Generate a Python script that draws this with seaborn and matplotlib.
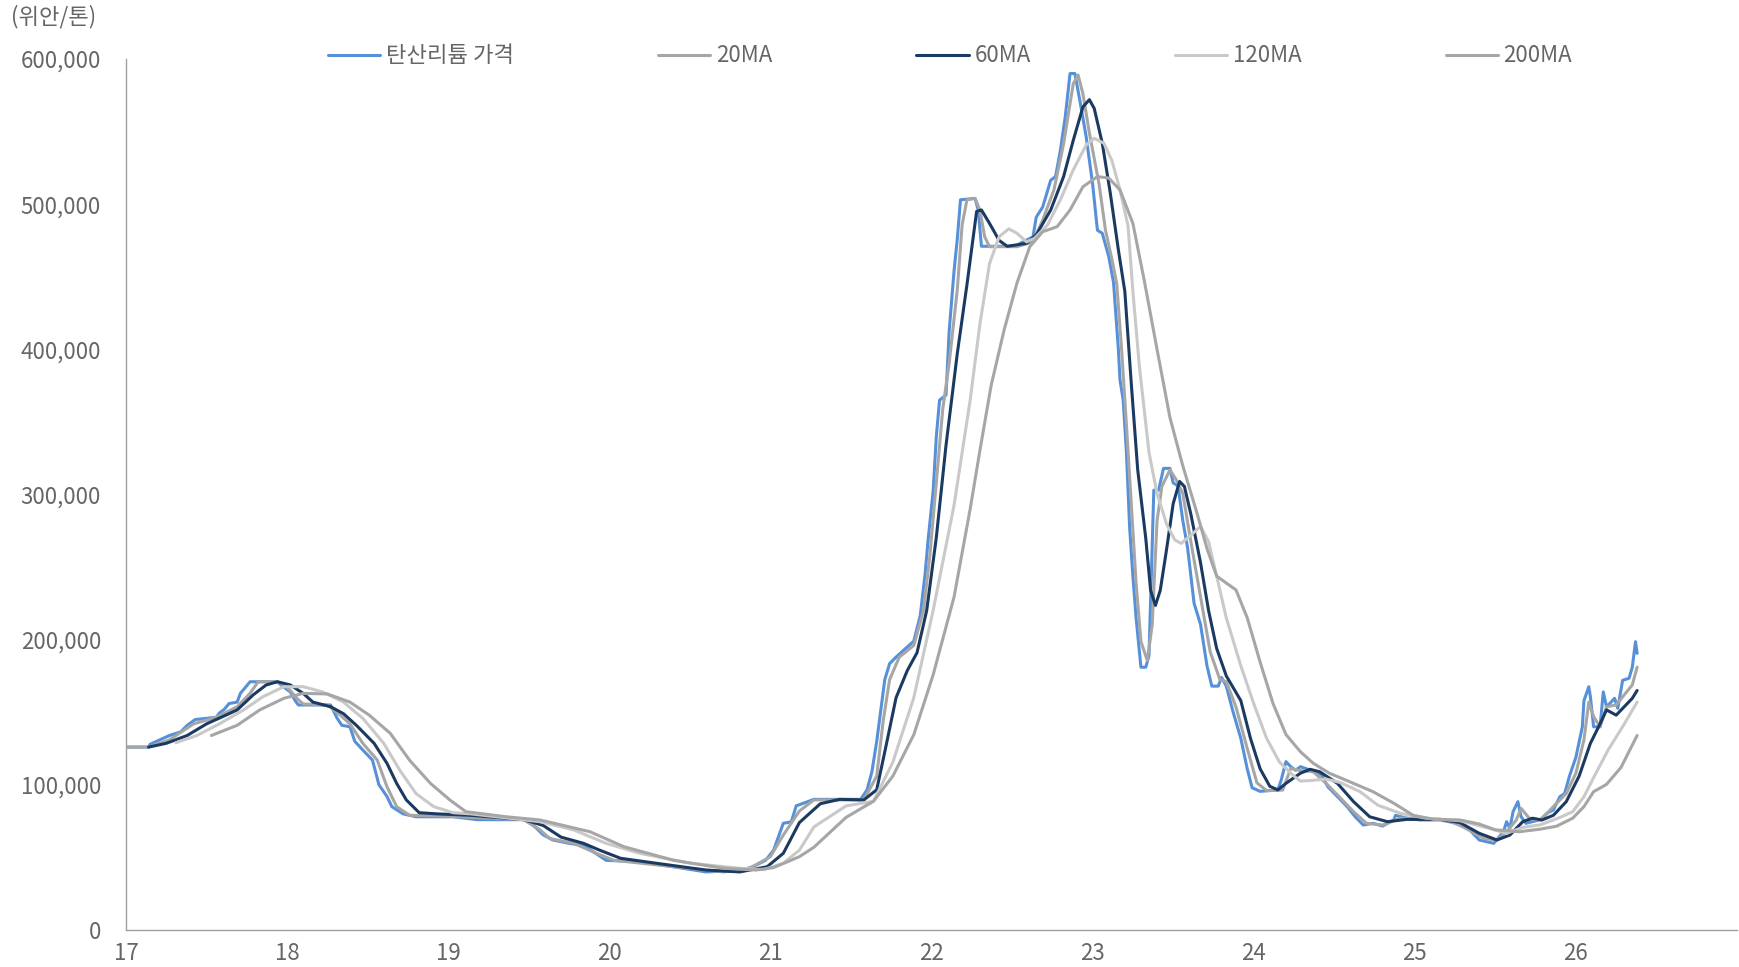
import matplotlib
matplotlib.use("Agg")
import matplotlib.pyplot as plt
from matplotlib.lines import Line2D
from matplotlib.ticker import FuncFormatter
import seaborn as sns
import pandas as pd

# ---- Lithium carbonate spot price (yuan/ton), x = year (17 = 2017) ----
price_x = [17.00, 17.14, 17.15, 17.21, 17.27, 17.34, 17.38, 17.43, 17.56, 17.58, 17.61, 17.64, 17.69, 17.71,
           17.77, 17.94, 17.96, 18.02, 18.05, 18.07, 18.27, 18.31, 18.34, 18.39, 18.42, 18.47, 18.53, 18.57,
           18.62, 18.65, 18.72, 18.80, 19.03, 19.18, 19.47, 19.53, 19.59, 19.65, 19.76, 19.84, 19.90, 19.98,
           20.19, 20.40, 20.60, 20.81, 20.89, 20.97, 21.02, 21.08, 21.13, 21.16, 21.27, 21.56, 21.60, 21.63,
           21.66, 21.68, 21.71, 21.74, 21.78, 21.83, 21.89, 21.93, 21.96, 21.98, 22.01, 22.03, 22.05, 22.09,
           22.11, 22.14, 22.16, 22.18, 22.27, 22.29, 22.31, 22.53, 22.55, 22.63, 22.65, 22.69, 22.74, 22.77,
           22.80, 22.83, 22.86, 22.89, 22.92, 22.96, 23.00, 23.03, 23.06, 23.10, 23.13, 23.16, 23.17, 23.19,
           23.21, 23.23, 23.25, 23.27, 23.30, 23.33, 23.35, 23.38, 23.41, 23.44, 23.48, 23.50, 23.53, 23.56,
           23.59, 23.63, 23.67, 23.71, 23.74, 23.78, 23.80, 23.83, 23.87, 23.92, 23.96, 23.99, 24.04, 24.15,
           24.17, 24.20, 24.23, 24.26, 24.29, 24.33, 24.37, 24.42, 24.46, 24.52, 24.58, 24.63, 24.68, 24.74,
           24.80, 24.87, 24.88, 24.95, 25.03, 25.16, 25.26, 25.34, 25.40, 25.49, 25.55, 25.57, 25.59, 25.61,
           25.64, 25.66, 25.69, 25.78, 25.82, 25.86, 25.90, 25.93, 25.96, 26.00, 26.04, 26.05, 26.08, 26.09,
           26.11, 26.15, 26.17, 26.19, 26.21, 26.24, 26.26, 26.29, 26.33, 26.35, 26.37, 26.38]
price_y = [126000, 126000, 128000, 131000, 134000, 136500, 141000, 145000, 146500, 149500, 152000, 156000, 157000, 163000,
           171000, 171000, 169000, 164000, 158000, 155000, 155000, 146000, 141000, 140000, 130000, 124000, 117000, 100000,
           92000, 85000, 80000, 78000, 78000, 76000, 76000, 72000, 65500, 62000, 59500, 58500, 54000, 48000,
           47000, 43500, 40000, 41000, 43500, 48000, 55000, 73500, 74500, 85500, 90000, 90000, 96500, 109000,
           130000, 147000, 172500, 183500, 188000, 193000, 199000, 216500, 245000, 270000, 302000, 340000, 365000, 368500,
           413000, 454000, 476000, 503000, 504000, 496000, 471000, 471000, 473000, 477500, 491000, 498000, 516500, 519000,
           537000, 560000, 590000, 590000, 572000, 546500, 514000, 482000, 480000, 464000, 446000, 400000, 379000, 365000,
           329000, 277000, 244000, 215000, 181000, 181000, 189000, 303000, 303000, 318000, 318000, 308000, 306000, 282000,
           263000, 225000, 210500, 182000, 168000, 168000, 174000, 168000, 151000, 132000, 111000, 98000, 95500, 96500,
           103000, 116000, 112500, 110000, 112500, 111000, 109000, 107000, 98700, 91800, 85000, 78000, 72300, 73500,
           71600, 75800, 79000, 77000, 75800, 75800, 73500, 69000, 62000, 59700, 67700, 74600, 70000, 81500,
           88400, 78000, 73500, 76000, 80400, 82700, 91800, 94000, 106000, 119000, 140000, 158000, 167600, 160700,
           140000, 140000, 164000, 153800, 156000, 159600, 152700, 172000, 173400, 181000, 198600, 190600]

# ---- 20-day moving average ----
ma20_x = [17.00, 17.14, 17.27, 17.42, 17.56, 17.69, 17.77, 17.82, 17.94, 18.00, 18.06, 18.10, 18.25, 18.33,
          18.39, 18.47, 18.56, 18.62, 18.68, 18.76, 18.97, 19.47, 19.57, 19.63, 19.78, 19.92, 20.03, 20.40,
          20.71, 20.87, 21.00, 21.08, 21.18, 21.27, 21.58, 21.66, 21.70, 21.74, 21.80, 21.89, 21.95, 21.99,
          22.03, 22.07, 22.11, 22.16, 22.19, 22.22, 22.27, 22.30, 22.33, 22.36, 22.53, 22.63, 22.69, 22.76,
          22.82, 22.88, 22.91, 22.94, 22.98, 23.04, 23.08, 23.12, 23.15, 23.18, 23.21, 23.24, 23.27, 23.30,
          23.34, 23.37, 23.40, 23.43, 23.48, 23.52, 23.56, 23.61, 23.67, 23.73, 23.79, 23.83, 23.89, 23.96,
          24.02, 24.08, 24.18, 24.23, 24.28, 24.37, 24.45, 24.54, 24.62, 24.70, 24.80, 24.91, 25.03, 25.20,
          25.30, 25.43, 25.51, 25.57, 25.63, 25.66, 25.71, 25.78, 25.86, 25.94, 26.00, 26.05, 26.08, 26.11,
          26.15, 26.19, 26.25, 26.30, 26.35, 26.38]
ma20_y = [126000, 126000, 131000, 142000, 146500, 153800, 163000, 171000, 171000, 167600, 159600, 155700, 155000, 148000,
          142000, 128600, 117000, 98700, 85000, 79000, 78500, 76000, 69000, 63000, 59700, 52800, 48000, 43600,
          40000, 42500, 50500, 65400, 82000, 89600, 89600, 106000, 144000, 172500, 188000, 196000, 220000, 258000,
          308500, 359000, 390700, 441000, 485700, 503000, 504000, 496000, 477600, 470700, 470700, 474000, 489000, 509800,
          541600, 583000, 589000, 576000, 549000, 514000, 482000, 462000, 445000, 400000, 348000, 293600, 239000, 198700,
          185600, 210500, 281800, 305500, 317000, 310000, 300700, 267500, 229500, 191600, 172600, 171000, 153600, 125000,
          101400, 96000, 96400, 111400, 110000, 109000, 101000, 90700, 81500, 73500, 72300, 77000, 77000, 75800,
          71000, 63000, 62000, 67700, 75800, 83800, 77000, 75500, 85000, 94000, 108000, 131000, 157000, 147000,
          140000, 153800, 155000, 162000, 168800, 181000]

# ---- 60-day moving average ----
ma60_x = [17.14, 17.25, 17.38, 17.50, 17.60, 17.69, 17.79, 17.87, 17.94, 18.02, 18.10, 18.16, 18.27, 18.35,
          18.43, 18.54, 18.62, 18.68, 18.74, 18.82, 18.93, 19.14, 19.47, 19.59, 19.70, 19.84, 19.94, 20.07,
          20.29, 20.60, 20.81, 20.98, 21.08, 21.18, 21.31, 21.43, 21.58, 21.66, 21.72, 21.78, 21.85, 21.91,
          21.97, 22.03, 22.09, 22.16, 22.22, 22.28, 22.31, 22.36, 22.42, 22.47, 22.59, 22.65, 22.74, 22.82,
          22.88, 22.94, 22.98, 23.01, 23.06, 23.11, 23.16, 23.20, 23.24, 23.28, 23.33, 23.36, 23.39, 23.42,
          23.46, 23.50, 23.54, 23.57, 23.61, 23.67, 23.72, 23.77, 23.83, 23.92, 23.98, 24.04, 24.10, 24.15,
          24.20, 24.29, 24.35, 24.41, 24.52, 24.62, 24.72, 24.83, 24.95, 25.16, 25.28, 25.40, 25.51, 25.59,
          25.67, 25.73, 25.79, 25.86, 25.94, 26.02, 26.09, 26.15, 26.19, 26.25, 26.30, 26.35, 26.38]
ma60_y = [126000, 128600, 134000, 142000, 147000, 151600, 162000, 168800, 171000, 168800, 163000, 157000, 153800, 149000,
          141000, 128600, 114800, 101000, 89600, 80800, 80000, 79000, 76000, 72000, 64000, 59700, 55000, 49400,
          46000, 41300, 40000, 43600, 52800, 74000, 87000, 90000, 89600, 96600, 128000, 160000, 178800, 191000,
          220000, 270500, 333800, 397000, 444500, 495000, 496000, 486800, 475000, 471000, 473000, 478800, 496000, 519000,
          544000, 567000, 572000, 566000, 542000, 507500, 468500, 440000, 376600, 317000, 269800, 234000, 223600, 234000,
          262800, 293600, 309000, 305500, 286400, 253000, 220000, 194000, 175000, 158000, 132000, 111000, 99000, 96500,
          101000, 108000, 110700, 109000, 101000, 88400, 78000, 74600, 76200, 76200, 74000, 66600, 62000, 65400,
          74600, 77000, 75800, 79000, 88400, 106000, 128600, 142000, 151600, 148000, 153800, 159600, 165000]

# ---- 120-day moving average ----
ma120_x = [17.31, 17.44, 17.58, 17.73, 17.85, 17.98, 18.10, 18.22, 18.35, 18.47, 18.60, 18.70, 18.80, 18.91,
           19.03, 19.14, 19.57, 19.78, 19.98, 20.19, 20.50, 20.81, 20.96, 21.08, 21.18, 21.27, 21.47, 21.64,
           21.76, 21.89, 22.01, 22.14, 22.24, 22.30, 22.36, 22.42, 22.48, 22.53, 22.59, 22.64, 22.72, 22.80,
           22.88, 22.96, 23.01, 23.07, 23.12, 23.17, 23.22, 23.25, 23.29, 23.35, 23.40, 23.46, 23.51, 23.55,
           23.61, 23.67, 23.72, 23.77, 23.83, 23.92, 24.00, 24.08, 24.16, 24.25, 24.29, 24.36, 24.45, 24.54,
           24.66, 24.77, 24.91, 25.07, 25.28, 25.44, 25.57, 25.67, 25.78, 25.90, 25.98, 26.05, 26.11, 26.20,
           26.29, 26.38]
ma120_y = [129000, 134000, 142000, 151600, 160700, 167600, 167600, 164000, 157000, 145800, 128600, 110000, 94000, 85000,
           80800, 80000, 74600, 68900, 59700, 52800, 46000, 42500, 41600, 46000, 55000, 71000, 85500, 88700,
           115600, 160000, 220000, 292600, 365000, 417000, 459000, 477600, 483000, 480000, 474000, 476500, 485700, 503000,
           523600, 540800, 545400, 542000, 530000, 509800, 485000, 440000, 388600, 329000, 300700, 279400, 268700, 266300,
           272000, 278000, 267500, 243800, 215000, 182000, 156000, 132000, 115700, 106000, 102600, 103000, 104000, 101500,
           95300, 86000, 80400, 77000, 75300, 70700, 66600, 70700, 72500, 77500, 81500, 91800, 105000, 124000,
           140000, 157000]

# ---- 200-day moving average ----
ma200_x = [17.53, 17.69, 17.83, 17.98, 18.10, 18.25, 18.39, 18.51, 18.64, 18.76, 18.89, 19.01, 19.11, 19.36,
           19.57, 19.88, 20.09, 20.40, 20.71, 20.91, 21.02, 21.18, 21.27, 21.47, 21.64, 21.76, 21.89, 22.01,
           22.14, 22.24, 22.30, 22.37, 22.45, 22.53, 22.61, 22.69, 22.78, 22.86, 22.94, 23.03, 23.10, 23.17,
           23.25, 23.32, 23.40, 23.48, 23.56, 23.65, 23.71, 23.77, 23.83, 23.89, 23.96, 24.04, 24.12, 24.20,
           24.29, 24.37, 24.47, 24.62, 24.74, 24.87, 24.99, 25.12, 25.28, 25.40, 25.50, 25.65, 25.78, 25.88,
           25.98, 26.05, 26.11, 26.19, 26.28, 26.38]
ma200_y = [134000, 141000, 151600, 159600, 163000, 162600, 157000, 148000, 135500, 117000, 101000, 89600, 81500, 78000,
           75800, 67700, 57400, 48000, 42500, 41300, 43000, 50500, 57000, 77600, 88700, 106000, 134500, 175700,
           229400, 290000, 330000, 375000, 413000, 445500, 470700, 481000, 484500, 496000, 512000, 519000, 518000, 509800,
           486800, 447800, 400000, 353000, 319700, 286400, 262800, 243800, 239000, 234300, 215000, 184500, 156000, 134700,
           122800, 114800, 108000, 101000, 95300, 87300, 79000, 76200, 75800, 73000, 69000, 67700, 69500, 71500,
           77000, 85000, 95300, 100300, 112000, 134000]

series_names = ["탄산리튬 가격", "20MA", "60MA", "120MA", "200MA"]
series_data = [(price_x, price_y), (ma20_x, ma20_y), (ma60_x, ma60_y), (ma120_x, ma120_y), (ma200_x, ma200_y)]
series_colors = ["#5690D8", "#A6A6A6", "#1B3A62", "#C9C9C9", "#A6A6A6"]

year_ticks = list(range(17, 28))
year_labels = [str(y) for y in range(17, 27)] + [""]
value_ticks = [0, 100000, 200000, 300000, 400000, 500000, 600000]

sns.set_theme(style="white")
plt.rcParams["font.family"] = ["Noto Sans CJK KR", "DejaVu Sans"]

text_color = "#666666"
axis_color = "#A0A0A0"
font_size = 16

fig = plt.figure(figsize=(17.4, 9.67), dpi=100)
ax = fig.add_axes([126 / 1740, 37 / 967, 1611 / 1740, 871 / 967])

for name, (xs, ys), color in zip(series_names, series_data, series_colors):
    df = pd.DataFrame({"x": xs, "y": ys})
    sns.lineplot(data=df, x="x", y="y", ax=ax, color=color, linewidth=2.2,
                 estimator=None, sort=False, legend=False)

ax.set_xlim(17, 27)
ax.set_ylim(0, 600000)
ax.set_xticks(year_ticks)
ax.set_xticklabels(year_labels)
ax.set_yticks(value_ticks)
ax.yaxis.set_major_formatter(FuncFormatter(lambda v, p: f"{int(v):,}"))
ax.set_xlabel("")
ax.set_ylabel("")

for side in ("top", "right"):
    ax.spines[side].set_visible(False)
for side in ("left", "bottom"):
    ax.spines[side].set_color(axis_color)
    ax.spines[side].set_linewidth(1.0)

ax.tick_params(axis="both", direction="in", length=4, width=1.0, color=axis_color,
               labelcolor=text_color, labelsize=font_size)
ax.tick_params(axis="y", pad=18)
ax.tick_params(axis="x", pad=9)

fig.text(11 / 1740, 1 - 17 / 967, "(위안/톤)", ha="left", va="center",
         fontsize=font_size, color=text_color)

handles = [Line2D([0], [0], color=c, linewidth=2.2) for c in series_colors]
ax.legend(handles, series_names, ncol=5, frameon=False, loc="center",
          bbox_to_anchor=(950 / 1740, 1 - 56 / 967), bbox_transform=fig.transFigure,
          fontsize=font_size, handlelength=2.35, handletextpad=0.25, columnspacing=6.5,
          labelcolor=text_color)

fig.savefig("out.png", dpi=100)
